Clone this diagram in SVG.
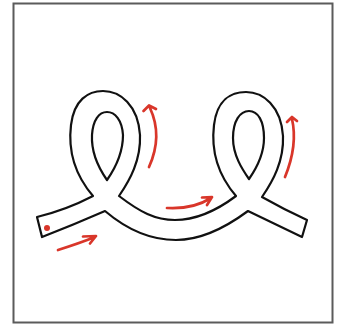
<svg xmlns="http://www.w3.org/2000/svg" width="343" height="326" viewBox="0 0 343 326">
<style>
.frame{fill:#fff;stroke:#5b5b5b;stroke-width:2}
.ribbon{fill:#fff;stroke:#111;stroke-width:2.2;stroke-linejoin:round;fill-rule:evenodd}
.arrow{fill:none;stroke:#d9362a;stroke-width:2.7;stroke-linecap:round;stroke-linejoin:round}
</style>
<rect class="frame" x="13.5" y="3.5" width="319" height="319"/>
<g id="ribbon">
<path class="ribbon" d="M37,217 Q66,210 93,196 C75,175 68,150 71,125 C74,100 88,91 103,91 C120,91 138,105 140,135 C141,160 130,180 119,196 C140,212 155,220 175,220 C200,220 220,208 236,196 C218,175 211,150 214,125 C217,100 231,92 246,92 C263,92 281,106 283,136 C284,161 273,181 262,197 Q285,210 307,220 L302,237 Q273,223 248,211 C225,228 200,240 176,240 C150,240 125,228 105,211 Q73,225 42,237 Z M107,180 C100,170 91,155 92,135 C93,120 99,112 107,112 C115,112 122,120 123,135 C123,155 114,170 107,180 Z M249,179 C242,169 233,155 233,138 C233,121 240,111 249,111 C258,111 264,121 264,138 C264,155 256,169 249,179 Z"/>
</g>
<g id="arrows">
<circle cx="47" cy="228" r="3" fill="#d9362a"/>
<path class="arrow" d="M58,250 Q80,243 95,237 M83,236.5 L96,236 L90,243.5"/>
<path class="arrow" d="M149,167 Q163,136 150,108 M143.5,111 L149,105.5 L156,109"/>
<path class="arrow" d="M167,208 C185,209 200,205 211,198 M202,197.5 L212,197 L207,205"/>
<path class="arrow" d="M285,177 Q298,145 292,119 M287,122 L292,117 L297,121"/>
</g>
</svg>
